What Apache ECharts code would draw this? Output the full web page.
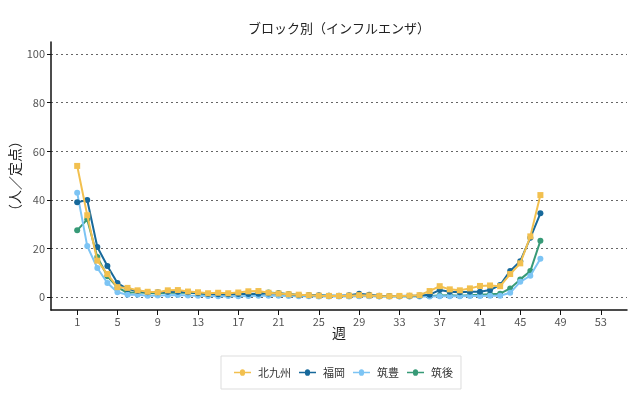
<!DOCTYPE html>
<html>
<head>
<meta charset="utf-8">
<script src="https://cdn.jsdelivr.net/npm/echarts@6/dist/echarts.min.js"></script>
<style>
  html, body { margin: 0; padding: 0; background: #fff; }
  #chart { width: 640px; height: 399px; }
</style>
</head>
<body>
<div id="chart"></div>
<script>
var chart = echarts.init(document.getElementById('chart'));

// 週 1..47
var weeks = [];
for (var w = 1; w <= 47; w++) weeks.push(w);

var xTicks = [1, 5, 9, 13, 17, 21, 25, 29, 33, 37, 41, 45, 49, 53];
var yTicks = [0, 20, 40, 60, 80, 100];

var names = ['北九州', '福岡', '筑豊', '筑後'];
var colors = ['#F2C04F', '#17699B', '#7CC4F4', '#379A77'];

var kitakyushu = [54, 33.7, 15, 9.5, 4.1, 3.8, 2.8, 2.2, 2, 2.8, 2.9, 2.3, 2, 1.6, 1.8, 1.6, 1.9, 2.4, 2.5, 1.8,
  1.5, 1.2, 1, 0.8, 0.6, 0.5, 0.5, 0.6, 0.8, 0.7, 0.5, 0.4, 0.5, 0.6, 0.8, 2.5, 4.5, 3.2, 2.8, 3.6,
  4.6, 4.8, 4.5, 9.5, 13.9, 25, 42];
var fukuoka = [39, 40, 20.6, 12.8, 5.8, 3.3, 2.5, 2, 2, 2.2, 2.2, 2, 1.6, 1.3, 1.2, 1.2, 1.3, 1.3, 1.4, 1.5,
  1.6, 1.2, 0.9, 0.8, 0.8, 0.6, 0.6, 0.8, 1.4, 1, 0.6, 0.5, 0.5, 0.6, 0.7, 1, 2.9, 2.2, 2, 2.2,
  2.2, 2.9, 5, 10.8, 14.8, 24.4, 34.5];
var chikuho = [43, 21, 12, 5.8, 2, 1, 1, 0.6, 0.7, 0.8, 0.9, 0.7, 0.6, 0.5, 0.4, 0.5, 0.4, 0.5, 0.6, 0.6,
  0.6, 0.5, 0.4, 0.4, 0.3, 0.3, 0.3, 0.3, 0.4, 0.4, 0.3, 0.3, 0.3, 0.3, 0.3, 0.3, 0.4, 0.4, 0.4, 0.5,
  0.5, 0.6, 0.6, 1.8, 6.3, 8.8, 15.8];
var chikugo = [27.5, 32, 16.5, 8.6, 4, 1.8, 2, 1.7, 1.6, 1.8, 1.9, 1.8, 1.6, 1.3, 1.4, 1.3, 1.5, 1.2, 1.4, 1.9,
  1.6, 1.2, 0.9, 0.8, 0.6, 0.6, 0.5, 0.5, 0.6, 0.6, 0.4, 0.4, 0.4, 0.4, 0.5, 0.5, 0.7, 0.8, 0.6, 0.8,
  1, 1.2, 1.4, 3.6, 7.3, 10.7, 23.2];

var values = [kitakyushu, fukuoka, chikuho, chikugo];
var symbols = ['rect', 'circle', 'circle', 'circle'];

function pairs(arr) {
  return arr.map(function (v, i) { return [weeks[i], v]; });
}

var series = names.map(function (n, i) {
  return {
    name: n,
    type: 'line',
    data: pairs(values[i]),
    symbol: symbols[i],
    symbolSize: 6,
    showSymbol: true,
    color: colors[i],
    lineStyle: { width: 2, color: colors[i] },
    itemStyle: { color: colors[i] },
    z: 4 - i
  };
});

// line + dot legend mark
var legendIcon = 'path://M0,3.2 L7,3.2 A3,3 0 0 1 13,3.2 L20,3.2 L20,4.8 L13,4.8 A3,3 0 0 1 7,4.8 L0,4.8 Z';

var fontFamily = '"Noto Sans CJK JP", "Noto Sans", sans-serif';

var option = {
  animation: false,
  textStyle: { fontFamily: fontFamily },
  title: {
    text: 'ブロック別（インフルエンザ）',
    left: 334,
    textAlign: 'center',
    top: 17,
    textStyle: { fontSize: 13, fontWeight: 'normal', color: '#222', fontFamily: fontFamily }
  },
  legend: {
    data: names.map(function (n) { return { name: n, icon: legendIcon }; }),
    left: 221,
    bottom: 10,
    orient: 'horizontal',
    borderColor: '#ddd',
    borderWidth: 1,
    padding: [11, 8, 11, 13],
    itemWidth: 17,
    itemHeight: 8,
    itemGap: 8,
    textStyle: { fontSize: 11, color: '#333', fontFamily: fontFamily, padding: [0, 0, 0, 2] }
  },
  grid: {
    left: 51,
    right: 13,
    top: 42,
    bottom: 89,
    outerBoundsMode: 'none'
  },
  xAxis: {
    type: 'value',
    min: -1.6,
    max: 55.6,
    name: '週',
    nameLocation: 'middle',
    nameGap: 16,
    nameMoveOverlap: false,
    nameTextStyle: { fontSize: 14, color: '#222', fontFamily: fontFamily },
    axisLine: { show: true, onZero: false, lineStyle: { color: '#111', width: 1.5 } },
    axisTick: { show: true, customValues: xTicks, length: 5, lineStyle: { color: '#111' } },
    axisLabel: { customValues: xTicks, color: '#555', fontSize: 11, margin: 6 },
    splitLine: { show: false }
  },
  yAxis: {
    type: 'value',
    min: -5.3,
    max: 105,
    name: '（人／定点）',
    nameLocation: 'middle',
    nameGap: 29,
    nameRotate: 90,
    nameMoveOverlap: false,
    nameTextStyle: { fontSize: 14, color: '#222', fontFamily: fontFamily },
    axisLine: { show: true, onZero: false, lineStyle: { color: '#111', width: 1.5 } },
    axisTick: { show: true, customValues: yTicks, length: 4, lineStyle: { color: '#111' } },
    axisLabel: { customValues: yTicks, color: '#555', fontSize: 11, margin: 6 },
    splitLine: { show: true, lineStyle: { color: '#666', type: [2, 3], width: 1 } }
  },
  series: series
};

chart.setOption(option);
</script>
</body>
</html>
